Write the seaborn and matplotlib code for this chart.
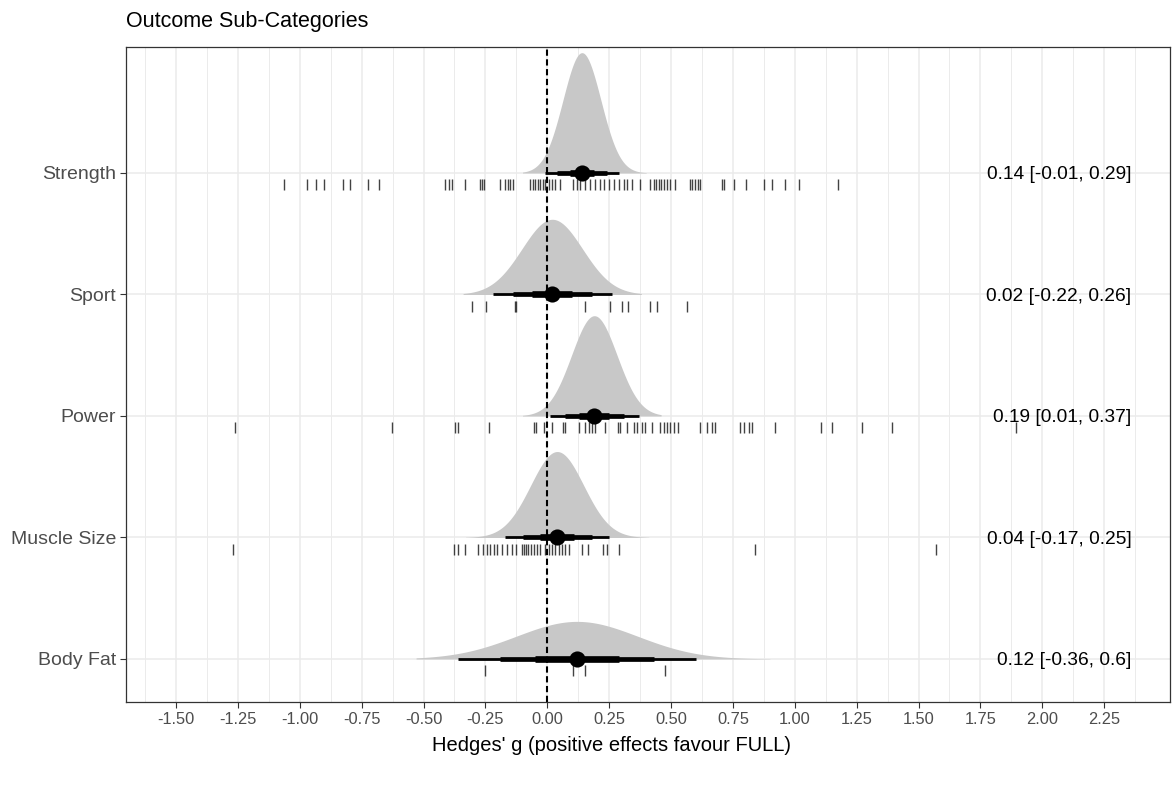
import numpy as np
import pandas as pd
import matplotlib
matplotlib.use("Agg")
import matplotlib.pyplot as plt
import seaborn as sns

# ---------------- data ----------------
categories = ["Strength", "Sport", "Power", "Muscle Size", "Body Fat"]
medians = [0.14, 0.02, 0.19, 0.04, 0.12]
ci95_lo = [-0.01, -0.22, 0.01, -0.17, -0.36]
ci95_hi = [0.29, 0.26, 0.37, 0.25, 0.60]
ci80_lo = [0.04, -0.14, 0.07, -0.10, -0.19]
ci80_hi = [0.24, 0.18, 0.31, 0.18, 0.43]
ci50_lo = [0.09, -0.06, 0.13, -0.03, -0.05]
ci50_hi = [0.19, 0.10, 0.25, 0.11, 0.29]
dens_lo = [-0.10, -0.34, -0.10, -0.33, -0.53]
dens_hi = [0.40, 0.38, 0.46, 0.41, 0.90]
labels = ["0.14 [-0.01, 0.29]", "0.02 [-0.22, 0.26]", "0.19 [0.01, 0.37]",
          "0.04 [-0.17, 0.25]", "0.12 [-0.36, 0.6]"]

rug_strength = [-1.063, -0.969, -0.934, -0.902, -0.826, -0.797, -0.723, -0.678,
                -0.412, -0.399, -0.385, -0.332, -0.271, -0.262, -0.255, -0.190,
                -0.170, -0.159, -0.150, -0.139, -0.069, -0.058, -0.049, -0.039,
                -0.028, -0.017, -0.008, 0.005, 0.019, 0.032, 0.053, 0.106, 0.120,
                0.133, 0.154, 0.174, 0.194, 0.214, 0.228, 0.248, 0.268, 0.288,
                0.309, 0.322, 0.342, 0.376, 0.417, 0.430, 0.441, 0.450, 0.461,
                0.470, 0.484, 0.497, 0.518, 0.575, 0.585, 0.598, 0.608, 0.616,
                0.706, 0.716, 0.753, 0.803, 0.877, 0.909, 0.962, 1.019, 1.174]
rug_sport = [-0.305, -0.247, -0.132, -0.125, 0.154, 0.255, 0.302, 0.325,
             0.417, 0.443, 0.565]
rug_power = [-1.262, -0.628, -0.372, -0.359, -0.237, -0.055, -0.044, -0.015,
             0.019, 0.063, 0.073, 0.127, 0.154, 0.167, 0.181, 0.194, 0.235,
             0.284, 0.295, 0.322, 0.349, 0.363, 0.383, 0.396, 0.423, 0.457,
             0.470, 0.484, 0.497, 0.511, 0.527, 0.619, 0.646, 0.666, 0.679,
             0.780, 0.794, 0.814, 0.828, 0.922, 1.104, 1.151, 1.273, 1.394, 1.892]
rug_muscle = [-1.271, -0.376, -0.359, -0.332, -0.278, -0.258, -0.244, -0.233,
              -0.217, -0.203, -0.183, -0.163, -0.143, -0.125, -0.102, -0.096,
              -0.085, -0.076, -0.066, -0.055, -0.042, -0.028, -0.008, 0.005,
              0.019, 0.032, 0.046, 0.059, 0.073, 0.086, 0.140, 0.163, 0.225,
              0.241, 0.288, 0.841, 1.569]
rug_bodyfat = [-0.251, 0.106, 0.154, 0.477]
rugs = [rug_strength, rug_sport, rug_power, rug_muscle, rug_bodyfat]

x_ticks = [-1.50, -1.25, -1.00, -0.75, -0.50, -0.25, 0.00, 0.25, 0.50, 0.75,
           1.00, 1.25, 1.50, 1.75, 2.00, 2.25]

title = "Outcome Sub-Categories"
x_title = "Hedges' g (positive effects favour FULL)"

# ---------------- styling ----------------
sns.set_theme(style="ticks")
plt.rcParams["font.family"] = ["Liberation Sans", "DejaVu Sans"]

W, H = 1172, 791
fig = plt.figure(figsize=(W / 100, H / 100), dpi=100)
left, right, top, bottom = 126, 1170, 47, 702
ax = fig.add_axes([left / W, 1 - bottom / H, (right - left) / W, (bottom - top) / H])

rows = np.arange(len(categories))
ax.set_xlim(-1.702, 2.516)
ax.set_ylim(4.354, -1.037)

# grid
minor = [t + 0.125 for t in x_ticks] + [x_ticks[0] - 0.125]
for m in minor:
    ax.axvline(m, color="#EBEBEB", lw=0.7, zorder=0)
for t in x_ticks:
    ax.axvline(t, color="#EBEBEB", lw=1.1, zorder=0)
for r in rows:
    ax.axhline(r, color="#EBEBEB", lw=1.1, zorder=0)

# densities (normal shapes from median and 95% CI, common scale)
dens_scale = 0.19
for i in rows:
    sd = (ci95_hi[i] - ci95_lo[i]) / 3.92
    xs = np.linspace(dens_lo[i], dens_hi[i], 400)
    pdf = np.exp(-0.5 * ((xs - medians[i]) / sd) ** 2) / (sd * np.sqrt(2 * np.pi))
    ax.fill_between(xs, i - pdf * dens_scale, i, color="#C8C8C8", lw=0, zorder=1)

# zero line
ax.axvline(0, color="black", lw=1.5, ls=(0, (3.0, 1.7)), zorder=2)

# rug ticks
for i in rows:
    ax.vlines(rugs[i], i + 0.05, i + 0.14, color="#222222", lw=1.0, alpha=0.85, zorder=2)

# intervals
ax.hlines(rows, ci95_lo, ci95_hi, color="black", lw=2.0, zorder=3)
ax.hlines(rows, ci80_lo, ci80_hi, color="black", lw=3.4, zorder=3)
ax.hlines(rows, ci50_lo, ci50_hi, color="black", lw=4.8, zorder=3)

df = pd.DataFrame({"category": categories, "median": medians, "row": rows})
sns.scatterplot(data=df, x="median", y="row", color="black", s=135,
                edgecolor="black", linewidth=0, ax=ax, zorder=4, legend=False)

# labels on right
for i in rows:
    ax.text(2.36, i, labels[i], ha="right", va="center_baseline", fontsize=13.8,
            color="black", zorder=5)

# axes
ax.set_xticks(x_ticks)
ax.set_xticklabels([f"{t:.2f}" for t in x_ticks])
ax.set_yticks(rows)
ax.set_yticklabels(categories)
ax.tick_params(axis="x", labelsize=11.8, colors="#333333", labelcolor="#4D4D4D",
               length=4, width=0.8, pad=3)
ax.tick_params(axis="y", labelsize=14.0, colors="#333333", labelcolor="#4D4D4D",
               length=4, width=0.8, pad=3)
ax.set_xlabel(x_title, fontsize=14.5, color="black")
ax.set_ylabel("")
ax.xaxis.set_label_coords((611 - left) / (right - left), -0.052)
for s in ax.spines.values():
    s.set_color("#333333")
    s.set_linewidth(0.9)
    s.set_visible(True)
ax.grid(False)

fig.text(left / W, 1 - 22 / H, title, ha="left", va="center", fontsize=15.5,
         color="black")

fig.savefig("out.png", dpi=100)
